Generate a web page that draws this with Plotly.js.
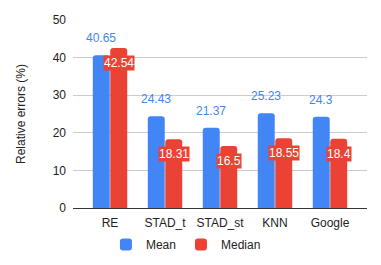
<!DOCTYPE html>
<html><head><meta charset="utf-8">
<script src="https://cdn.plot.ly/plotly-3.0.1.min.js"></script>
<style>html,body{margin:0;padding:0;background:#fff}#chart{width:381px;height:265px}</style>
</head><body><div id="chart"></div>
<script>
var categories = ["RE", "STAD_t", "STAD_st", "KNN", "Google"];
var meanValues = [40.65, 24.43, 21.37, 25.23, 24.3];
var medianValues = [42.54, 18.31, 16.5, 18.55, 18.4];
var meanLabels = ["40.65", "24.43", "21.37", "25.23", "24.3"];
var medianLabels = ["42.54", "18.31", "16.5", "18.55", "18.4"];

var blue = '#4285F4', red = '#EA4335';
var font = 'Liberation Sans, Arial, sans-serif';

var traces = [
  {type:'bar', name:'Mean', x:categories, y:meanValues, marker:{color:blue, cornerradius:3}, hoverinfo:'none'},
  {type:'bar', name:'Median', x:categories, y:medianValues, marker:{color:red, cornerradius:3}, hoverinfo:'none'}
];

var annotations = [];
categories.forEach(function(c, i){
  annotations.push({x:c, y:meanValues[i], xref:'x', yref:'y', text:meanLabels[i], showarrow:false,
    xshift:-8.75, yanchor:'bottom', yshift:8, font:{family:font, size:12, color:blue}});
  annotations.push({x:c, y:medianValues[i], xref:'x', yref:'y', text:medianLabels[i], showarrow:false,
    xshift:8.75, yanchor:'top', yshift:-7, bgcolor:red, borderpad:0, font:{family:font, size:12, color:'#ffffff'}});
});

var layout = {
  width:381, height:265,
  margin:{l:73, r:14, t:20, b:57},
  paper_bgcolor:'#fff', plot_bgcolor:'#fff',
  font:{family:font, size:12, color:'#222'},
  barmode:'group', bargap:0.364, bargroupgap:0.03,
  showlegend:true,
  legend:{orientation:'h', xref:'container', yref:'container', x:0.488, xanchor:'center', y:0.077, yanchor:'middle', font:{family:font, size:12, color:'#222'}},
  xaxis:{type:'category', range:[-0.673, 4.673], showgrid:false, ticks:'', ticklabelstandoff:6, tickfont:{family:font, size:12, color:'#222'}},
  yaxis:{range:[0,50], dtick:10, showgrid:true, gridcolor:'#cccccc', zeroline:true, zerolinecolor:'#333', zerolinewidth:1,
    ticks:'', ticklabelstandoff:6, tickfont:{family:font, size:12, color:'#222'},
    title:{text:'Relative errors (%)', font:{family:font, size:12, color:'#222'}, standoff:24}},
  annotations:annotations
};
Plotly.newPlot('chart', traces, layout, {displayModeBar:false, staticPlot:true});
</script></body></html>
